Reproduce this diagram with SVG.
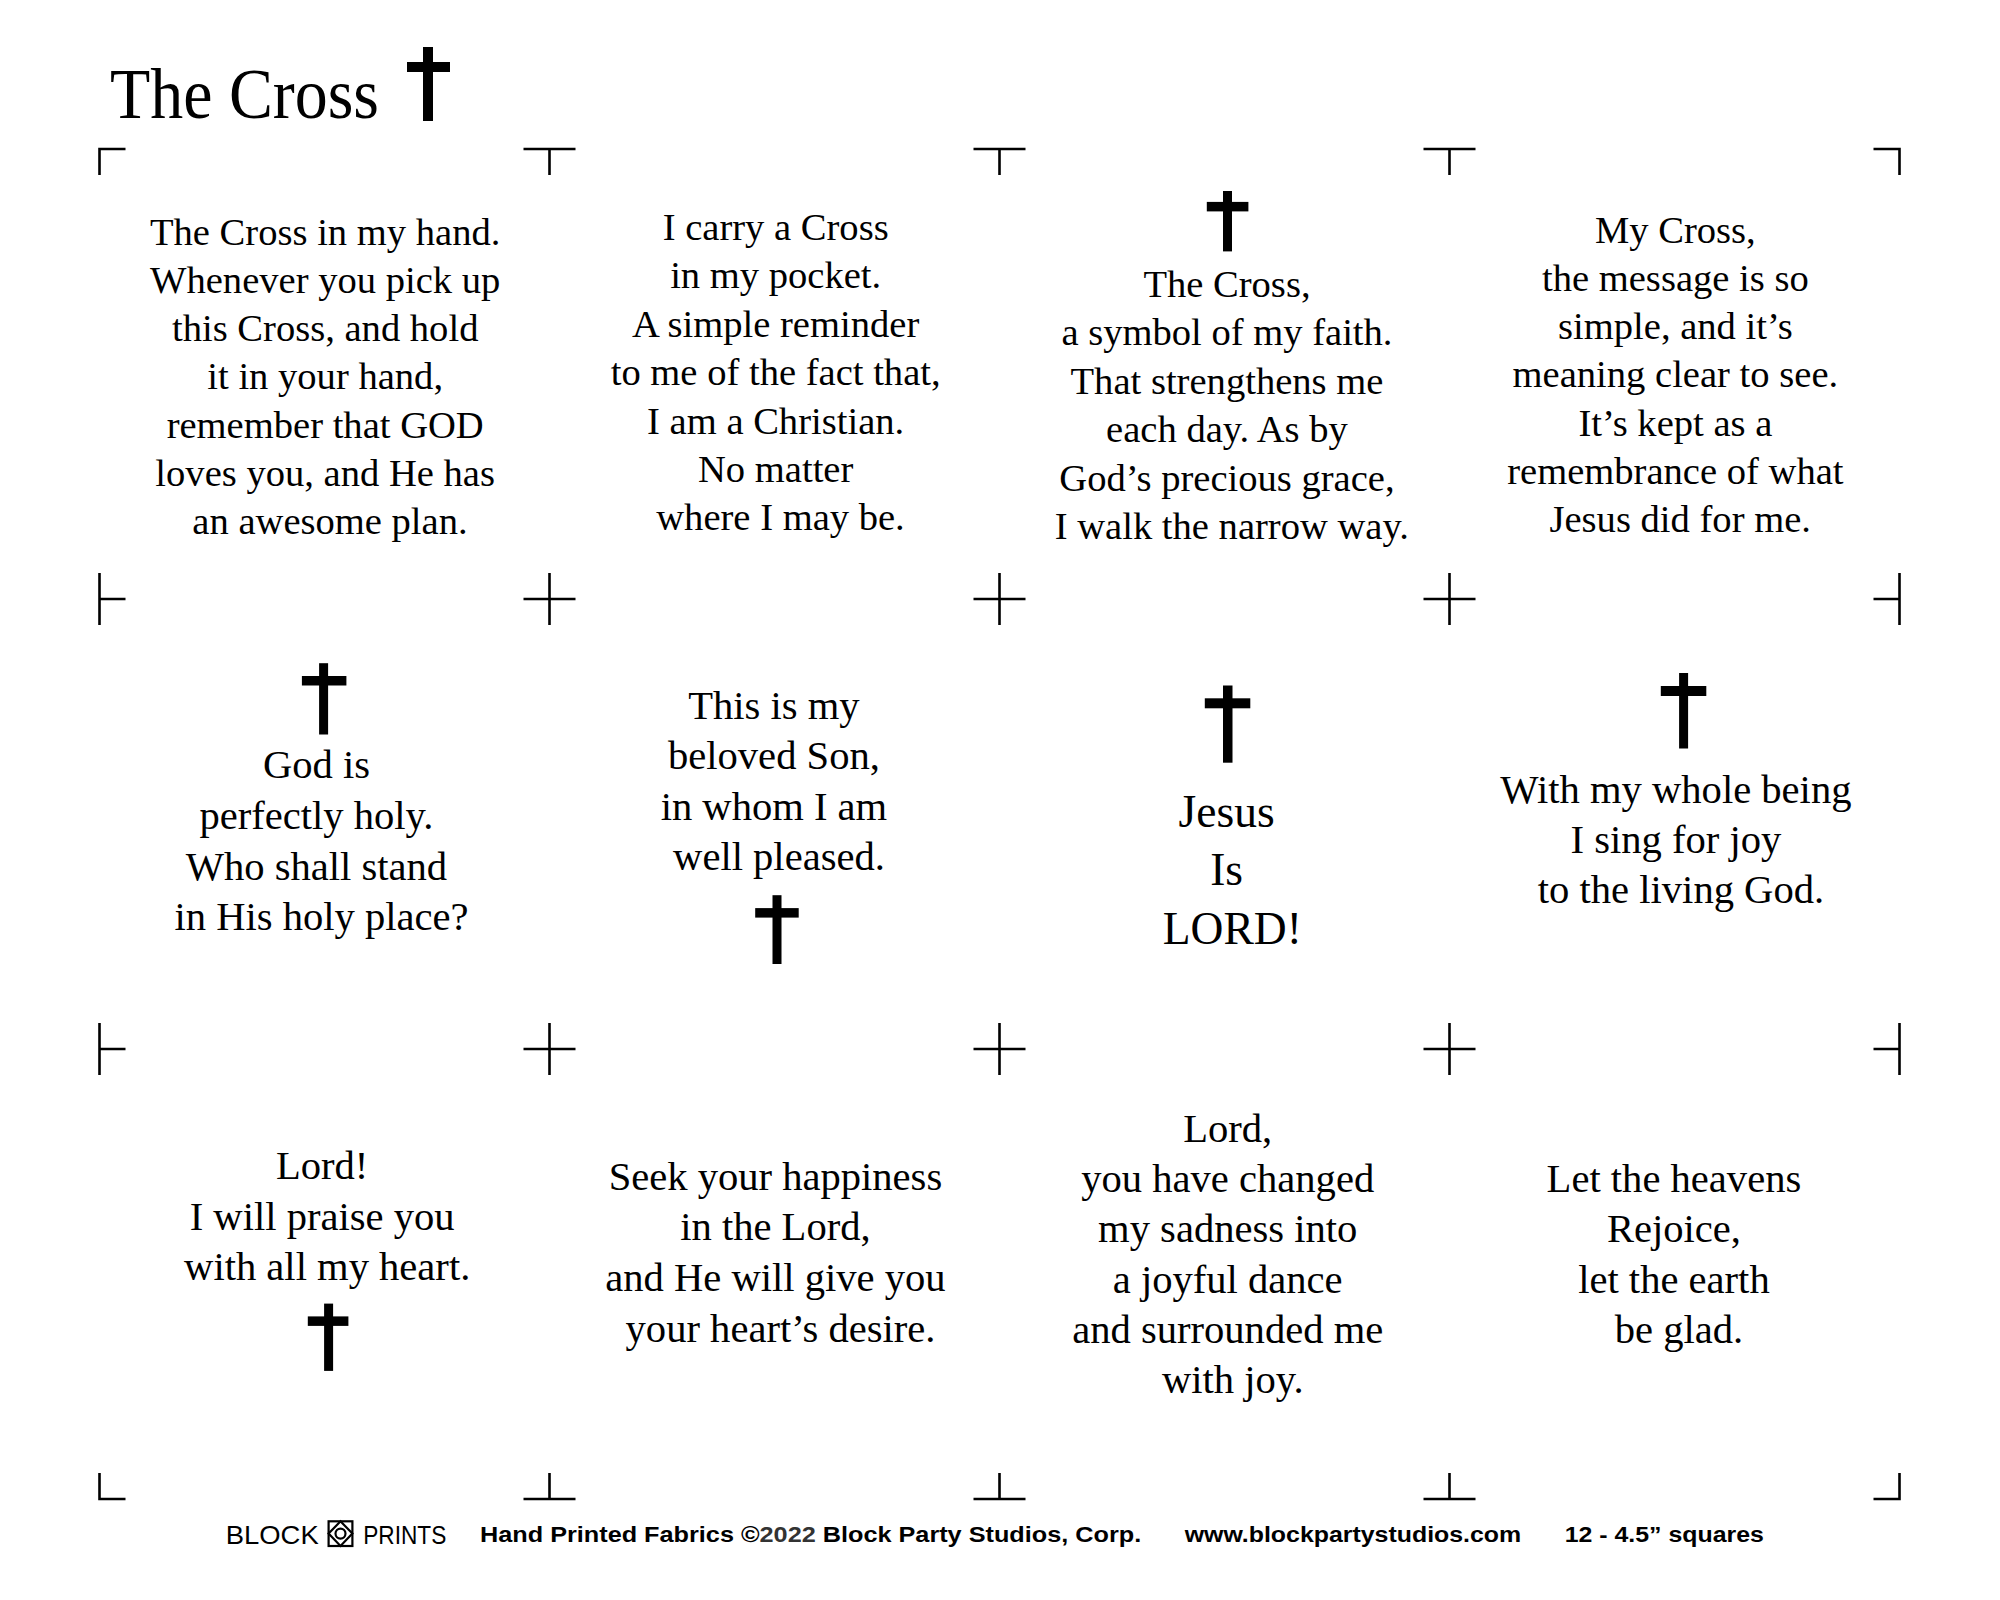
<svg xmlns="http://www.w3.org/2000/svg" width="2000" height="1600" viewBox="0 0 2000 1600">
  <style>
    .bg { fill: #ffffff; }
    .mark { fill: none; stroke: #000; stroke-width: 2.6; stroke-linecap: butt; }
    .cr { fill: #000; }
    .v { font-family: "Liberation Serif", "Times New Roman", serif; fill: #000; text-anchor: middle; }
    .r1 { font-size: 38.6px; }
    .r2 { font-size: 40.6px; }
    .big { font-size: 45.5px; }
    .title { font-family: "Liberation Serif", "Times New Roman", serif; font-size: 72px; fill: #000; }
    .foot { font-family: "Liberation Sans", Arial, sans-serif; font-weight: bold; font-size: 22.8px; fill: #000; }
    .logo { font-family: "Liberation Sans", Arial, sans-serif; font-size: 25.7px; fill: #000; }
    .logoshape { fill: none; stroke: #000; stroke-width: 2.2; }
  </style>
  <rect class="bg" x="0" y="0" width="2000" height="1600"/>

  <g id="title">
    <text class="title" x="110" y="118" textLength="269" lengthAdjust="spacingAndGlyphs">The Cross</text>
    <rect class="cr" x="423" y="47" width="10" height="74"/>
    <rect class="cr" x="407" y="62" width="43" height="10"/>
  </g>

  <g id="crop-marks">
    <path class="mark" d="M99.5,175 V149 H125.5"/>
    <path class="mark" d="M523.5,149 H575.5 M549.5,149 V175"/>
    <path class="mark" d="M973.5,149 H1025.5 M999.5,149 V175"/>
    <path class="mark" d="M1423.5,149 H1475.5 M1449.5,149 V175"/>
    <path class="mark" d="M1873.5,149 H1899.5 V175"/>

    <path class="mark" d="M99.5,573 V625 M99.5,599 H125.5"/>
    <path class="mark" d="M523.5,599 H575.5 M549.5,573 V625"/>
    <path class="mark" d="M973.5,599 H1025.5 M999.5,573 V625"/>
    <path class="mark" d="M1423.5,599 H1475.5 M1449.5,573 V625"/>
    <path class="mark" d="M1899.5,573 V625 M1873.5,599 H1899.5"/>

    <path class="mark" d="M99.5,1023 V1075 M99.5,1049 H125.5"/>
    <path class="mark" d="M523.5,1049 H575.5 M549.5,1023 V1075"/>
    <path class="mark" d="M973.5,1049 H1025.5 M999.5,1023 V1075"/>
    <path class="mark" d="M1423.5,1049 H1475.5 M1449.5,1023 V1075"/>
    <path class="mark" d="M1899.5,1023 V1075 M1873.5,1049 H1899.5"/>

    <path class="mark" d="M99.5,1473 V1499 H125.5"/>
    <path class="mark" d="M523.5,1499 H575.5 M549.5,1473 V1499"/>
    <path class="mark" d="M973.5,1499 H1025.5 M999.5,1473 V1499"/>
    <path class="mark" d="M1423.5,1499 H1475.5 M1449.5,1473 V1499"/>
    <path class="mark" d="M1873.5,1499 H1899.5 V1473"/>
  </g>

  <g id="square-1">
    <text class="v r1">
      <tspan x="330" y="244.5">The Cross in my hand.</tspan>
      <tspan x="330" y="292.8">Whenever you pick up</tspan>
      <tspan x="330" y="341.1">this Cross, and hold</tspan>
      <tspan x="330" y="389.4">it in your hand,</tspan>
      <tspan x="330" y="437.7">remember that GOD</tspan>
      <tspan x="330" y="486">loves you, and He has</tspan>
      <tspan x="330" y="534.3">an awesome plan.</tspan>
    </text>
  </g>

  <g id="square-2">
    <text class="v r1">
      <tspan x="780.5" y="240">I carry a Cross</tspan>
      <tspan x="780.5" y="288.4">in my pocket.</tspan>
      <tspan x="780.5" y="336.8">A simple reminder</tspan>
      <tspan x="780.5" y="385.2">to me of the fact that,</tspan>
      <tspan x="780.5" y="433.6">I am a Christian.</tspan>
      <tspan x="780.5" y="482">No matter</tspan>
      <tspan x="780.5" y="530.4">where I may be.</tspan>
    </text>
  </g>

  <g id="square-3">
    <rect class="cr" x="1223" y="191" width="9" height="60.4"/>
    <rect class="cr" x="1206.8" y="201.9" width="41.6" height="9.5"/>
    <text class="v r1">
      <tspan x="1231.8" y="296.9">The Cross,</tspan>
      <tspan x="1231.8" y="345.3">a symbol of my faith.</tspan>
      <tspan x="1231.8" y="393.7">That strengthens me</tspan>
      <tspan x="1231.8" y="442.1">each day. As by</tspan>
      <tspan x="1231.8" y="490.5">God’s precious grace,</tspan>
      <tspan x="1231.8" y="538.9">I walk the narrow way.</tspan>
    </text>
  </g>

  <g id="square-4">
    <text class="v r1">
      <tspan x="1680.2" y="242.5">My Cross,</tspan>
      <tspan x="1680.2" y="290.8">the message is so</tspan>
      <tspan x="1680.2" y="339.1">simple, and it’s</tspan>
      <tspan x="1680.2" y="387.4">meaning clear to see.</tspan>
      <tspan x="1680.2" y="435.7">It’s kept as a</tspan>
      <tspan x="1680.2" y="484">remembrance of what</tspan>
      <tspan x="1680.2" y="532.3">Jesus did for me.</tspan>
    </text>
  </g>

  <g id="square-5">
    <rect class="cr" x="319.1" y="663.2" width="9" height="71.3"/>
    <rect class="cr" x="301.9" y="676" width="44.5" height="9.5"/>
    <text class="v r2">
      <tspan x="321.5" y="778">God is</tspan>
      <tspan x="321.5" y="828.8">perfectly holy.</tspan>
      <tspan x="321.5" y="879.6">Who shall stand</tspan>
      <tspan x="321.5" y="930.4">in His holy place?</tspan>
    </text>
  </g>

  <g id="square-6">
    <text class="v r2">
      <tspan x="779" y="719">This is my</tspan>
      <tspan x="779" y="769.3">beloved Son,</tspan>
      <tspan x="779" y="819.6">in whom I am</tspan>
      <tspan x="779" y="869.9">well pleased.</tspan>
    </text>
    <rect class="cr" x="772.5" y="895.2" width="9" height="68.8"/>
    <rect class="cr" x="755.2" y="908.1" width="43.5" height="9.5"/>
  </g>

  <g id="square-7">
    <rect class="cr" x="1223" y="685.5" width="9.5" height="77.2"/>
    <rect class="cr" x="1204.8" y="698.3" width="45.5" height="10"/>
    <text class="v big">
      <tspan x="1232.3" y="826.5">Jesus</tspan>
      <tspan x="1232.3" y="884.8">Is</tspan>
      <tspan x="1232.3" y="943.7">LORD!</tspan>
    </text>
  </g>

  <g id="square-8">
    <rect class="cr" x="1679.1" y="673" width="9" height="75.5"/>
    <rect class="cr" x="1660.8" y="686" width="45.5" height="10"/>
    <text class="v r2">
      <tspan x="1681" y="802.5">With my whole being</tspan>
      <tspan x="1681" y="853">I sing for joy</tspan>
      <tspan x="1681" y="902.5">to the living God.</tspan>
    </text>
  </g>

  <g id="square-9">
    <text class="v r2">
      <tspan x="327.2" y="1179.4">Lord!</tspan>
      <tspan x="327.2" y="1229.8">I will praise you</tspan>
      <tspan x="327.2" y="1280.3">with all my heart.</tspan>
    </text>
    <rect class="cr" x="324.1" y="1303.6" width="9" height="67.3"/>
    <rect class="cr" x="307.8" y="1316.4" width="40.6" height="9.5"/>
  </g>

  <g id="square-10">
    <text class="v r2">
      <tspan x="780.5" y="1189.8">Seek your happiness</tspan>
      <tspan x="780.5" y="1240.2">in the Lord,</tspan>
      <tspan x="780.5" y="1290.7">and He will give you</tspan>
      <tspan x="780.5" y="1341.7">your heart’s desire.</tspan>
    </text>
  </g>

  <g id="square-11">
    <text class="v r2">
      <tspan x="1232.8" y="1141.7">Lord,</tspan>
      <tspan x="1232.8" y="1192">you have changed</tspan>
      <tspan x="1232.8" y="1242.3">my sadness into</tspan>
      <tspan x="1232.8" y="1292.6">a joyful dance</tspan>
      <tspan x="1232.8" y="1342.9">and surrounded me</tspan>
      <tspan x="1232.8" y="1393.1">with joy.</tspan>
    </text>
  </g>

  <g id="square-12">
    <text class="v r2">
      <tspan x="1679" y="1191.5">Let the heavens</tspan>
      <tspan x="1679" y="1242">Rejoice,</tspan>
      <tspan x="1679" y="1292.5">let the earth</tspan>
      <tspan x="1679" y="1343">be glad.</tspan>
    </text>
  </g>

  <g id="footer">
    <text class="logo" x="225.7" y="1544" textLength="93" lengthAdjust="spacingAndGlyphs">BLOCK</text>
    <rect class="logoshape" x="328.6" y="1521.3" width="23.8" height="24.7"/>
    <polygon class="logoshape" points="340.5,1521.3 352.4,1533.6 340.5,1546 328.6,1533.6"/>
    <circle class="logoshape" cx="340.5" cy="1533.6" r="5"/>
    <text class="logo" x="363.2" y="1544" textLength="83.1" lengthAdjust="spacingAndGlyphs">PRINTS</text>
    <text class="foot" x="480" y="1542" textLength="661.2" lengthAdjust="spacingAndGlyphs">Hand Printed Fabrics ©<tspan fill="#333">2022</tspan> Block Party Studios, Corp.</text>
    <text class="foot" x="1184.7" y="1542" textLength="336.5" lengthAdjust="spacingAndGlyphs">www.blockpartystudios.com</text>
    <text class="foot" x="1564.8" y="1542" textLength="199" lengthAdjust="spacingAndGlyphs">12 - 4.5” squares</text>
  </g>
</svg>
